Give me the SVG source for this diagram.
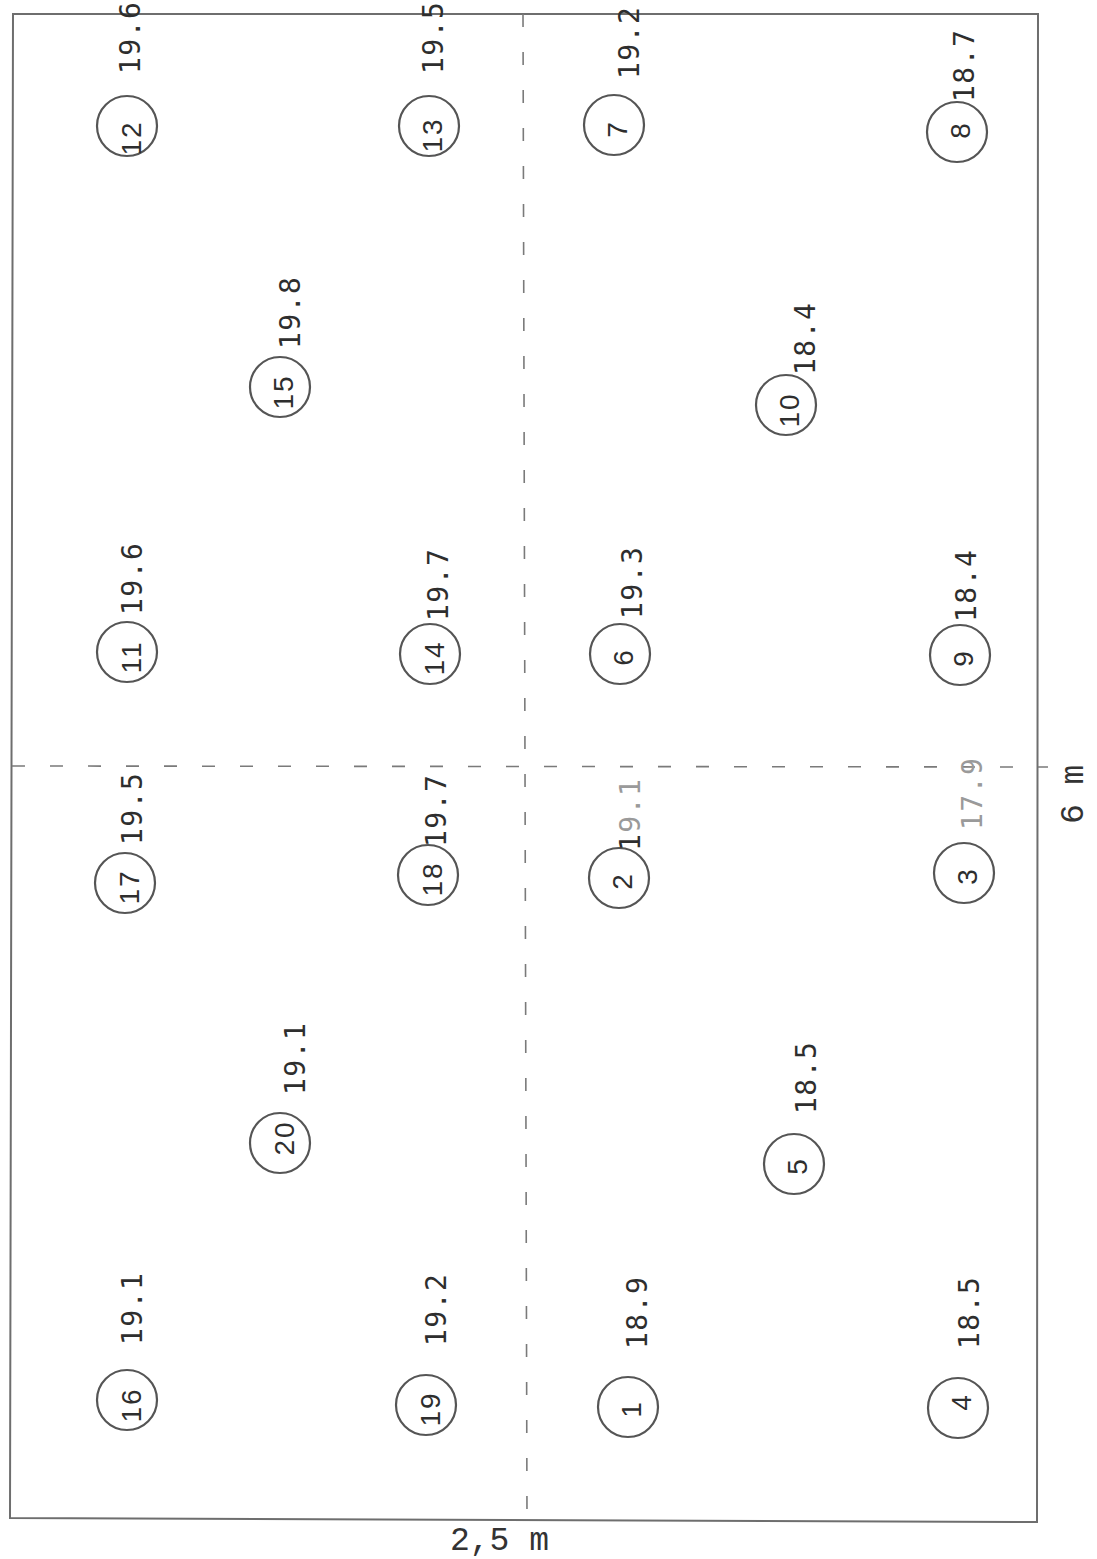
<svg xmlns="http://www.w3.org/2000/svg" width="1097" height="1559" viewBox="0 0 1097 1559">
<style>
.frame{fill:none;stroke:#6e6e6e;stroke-width:2}
.dash{fill:none;stroke:#7a7a7a;stroke-width:1.6;stroke-dasharray:13 25}
.node circle{fill:none;stroke:#555;stroke-width:2.2}
.num{font-family:"Liberation Sans","DejaVu Sans",sans-serif;font-size:28px;fill:#2e2e2e;text-anchor:middle;letter-spacing:2px}
.val{font-family:"DejaVu Sans Mono","Liberation Mono",monospace;font-size:28px;fill:#2e2e2e;letter-spacing:1.5px}
.faint{fill:#9a9a9a}
.dark{fill:#2e2e2e}
.dim{font-family:"Liberation Mono","DejaVu Sans Mono",monospace;font-size:33px;fill:#333}
</style>
<rect width="1097" height="1559" fill="#fff"/>
<path class="frame" d="M13,14 L1038,14 L1037,1522 L10,1518 Z"/>
<g id="connectors">
<path class="dash" d="M523,14 L527,1520"/>
<path class="dash" d="M12,766 L1048,767"/>
</g>
<g id="n12" class="node"><circle cx="127" cy="126" r="30"/><text class="num" transform="translate(131,138) rotate(-90)" y="10">12</text><text class="val" transform="translate(140,74) rotate(-90)">19.6</text></g>
<g id="n13" class="node"><circle cx="429" cy="126" r="30"/><text class="num" transform="translate(432,135) rotate(-90)" y="10">13</text><text class="val" transform="translate(443,74) rotate(-90)">19.5</text></g>
<g id="n7" class="node"><circle cx="614" cy="125" r="30"/><text class="num" transform="translate(617,129) rotate(-90)" y="10">7</text><text class="val" transform="translate(639,79) rotate(-90)">19.2</text></g>
<g id="n8" class="node"><circle cx="957" cy="132" r="30"/><text class="num" transform="translate(960,130) rotate(-90)" y="10">8</text><text class="val" transform="translate(974,102) rotate(-90)">18.7</text></g>
<g id="n15" class="node"><circle cx="280" cy="387" r="30"/><text class="num" transform="translate(283,392) rotate(-90)" y="10">15</text><text class="val" transform="translate(300,349) rotate(-90)">19.8</text></g>
<g id="n10" class="node"><circle cx="786" cy="405" r="30"/><text class="num" transform="translate(789,410) rotate(-90)" y="10">10</text><text class="val" transform="translate(815,375) rotate(-90)">18.4</text></g>
<g id="n11" class="node"><circle cx="127" cy="652" r="30"/><text class="num" transform="translate(131,657) rotate(-90)" y="10">11</text><text class="val" transform="translate(142,615) rotate(-90)">19.6</text></g>
<g id="n14" class="node"><circle cx="430" cy="654" r="30"/><text class="num" transform="translate(434,658) rotate(-90)" y="10">14</text><text class="val" transform="translate(448,621) rotate(-90)">19.7</text></g>
<g id="n6" class="node"><circle cx="620" cy="654" r="30"/><text class="num" transform="translate(623,657) rotate(-90)" y="10">6</text><text class="val" transform="translate(642,619) rotate(-90)">19.3</text></g>
<g id="n9" class="node"><circle cx="960" cy="655" r="30"/><text class="num" transform="translate(963,658) rotate(-90)" y="10">9</text><text class="val" transform="translate(976,622) rotate(-90)">18.4</text></g>
<g id="n17" class="node"><circle cx="125" cy="883" r="30"/><text class="num" transform="translate(129,887) rotate(-90)" y="10">17</text><text class="val" transform="translate(142,845) rotate(-90)">19.5</text></g>
<g id="n18" class="node"><circle cx="428" cy="875" r="30"/><text class="num" transform="translate(432,879) rotate(-90)" y="10">18</text><text class="val" transform="translate(446,847) rotate(-90)">19.7</text></g>
<g id="n2" class="node"><circle cx="619" cy="878" r="30"/><text class="num" transform="translate(622,881) rotate(-90)" y="10">2</text><text class="val faint" transform="translate(640,851) rotate(-90)"><tspan class="dark">1</tspan>9.1</text></g>
<g id="n3" class="node"><circle cx="964" cy="873" r="30"/><text class="num" transform="translate(967,876) rotate(-90)" y="10">3</text><text class="val faint" transform="translate(982,830) rotate(-90)">17.9</text></g>
<g id="n20" class="node"><circle cx="280" cy="1143" r="30"/><text class="num" transform="translate(284,1138) rotate(-90)" y="10">20</text><text class="val" transform="translate(305,1095) rotate(-90)">19.1</text></g>
<g id="n5" class="node"><circle cx="794" cy="1164" r="30"/><text class="num" transform="translate(797,1166) rotate(-90)" y="10">5</text><text class="val" transform="translate(816,1114) rotate(-90)">18.5</text></g>
<g id="n16" class="node"><circle cx="127" cy="1400" r="30"/><text class="num" transform="translate(131,1405) rotate(-90)" y="10">16</text><text class="val" transform="translate(142,1345) rotate(-90)">19.1</text></g>
<g id="n19" class="node"><circle cx="426" cy="1405" r="30"/><text class="num" transform="translate(430,1409) rotate(-90)" y="10">19</text><text class="val" transform="translate(446,1346) rotate(-90)">19.2</text></g>
<g id="n1" class="node"><circle cx="628" cy="1407" r="30"/><text class="num" transform="translate(631,1409) rotate(-90)" y="10">1</text><text class="val" transform="translate(647,1349) rotate(-90)">18.9</text></g>
<g id="n4" class="node"><circle cx="958" cy="1408" r="30"/><text class="num" transform="translate(961,1402) rotate(-90)" y="10">4</text><text class="val" transform="translate(979,1349) rotate(-90)">18.5</text></g>
<text class="dim" x="450" y="1550">2,5 m</text>
<text class="dim" transform="translate(1083,824) rotate(-90)">6 m</text>
</svg>
